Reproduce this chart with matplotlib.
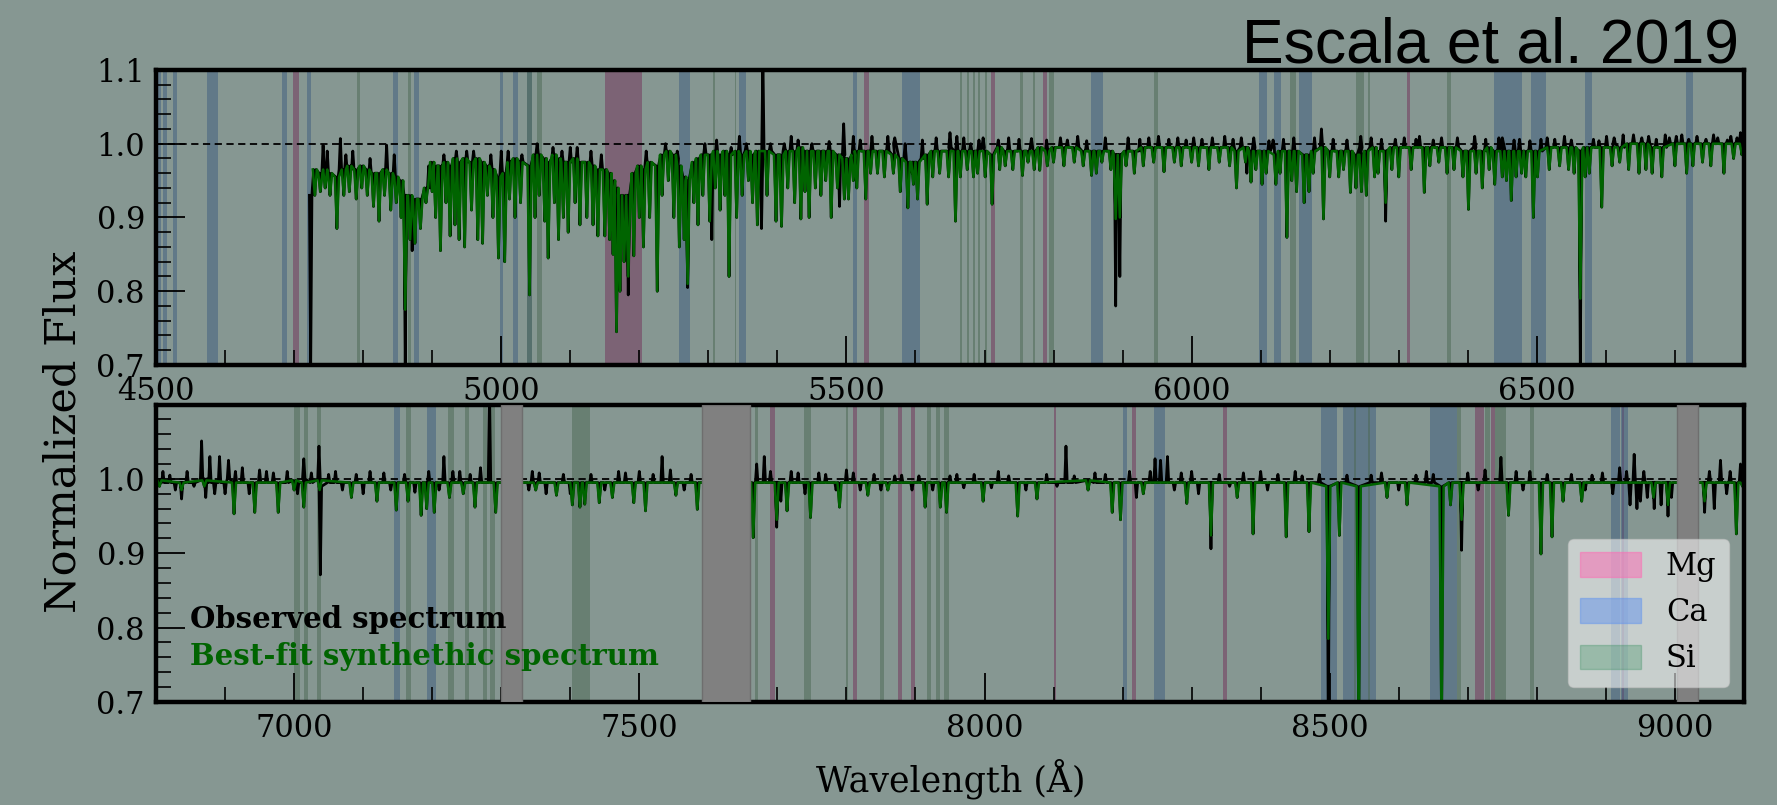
import matplotlib
matplotlib.use("Agg")
import matplotlib.pyplot as plt
from matplotlib.patches import Patch
from matplotlib.ticker import MultipleLocator

# ---- data -------------------------------------------------------------
# absorption features of the best-fit model: (centre A, local top, minimum)
MODEL_LINES = [
    (4730, 0.965, 0.93), (4738, 0.96, 0.935), (4745, 0.965, 0.94), (4752, 0.96, 0.93),
    (4762, 0.955, 0.885), (4772, 0.965, 0.93), (4780, 0.97, 0.935), (4790, 0.965, 0.925),
    (4798, 0.97, 0.94), (4806, 0.965, 0.93), (4815, 0.96, 0.915), (4823, 0.96, 0.895),
    (4831, 0.965, 0.93), (4840, 0.96, 0.91), (4848, 0.955, 0.92), (4855, 0.95, 0.90),
    (4861, 0.93, 0.775), (4868, 0.93, 0.87), (4875, 0.925, 0.865), (4883, 0.925, 0.885),
    (4891, 0.94, 0.92), (4900, 0.975, 0.935), (4905, 0.97, 0.90), (4912, 0.97, 0.855),
    (4920, 0.975, 0.92), (4926, 0.97, 0.875), (4933, 0.98, 0.89), (4939, 0.975, 0.87),
    (4947, 0.98, 0.86), (4957, 0.975, 0.91), (4966, 0.98, 0.87), (4973, 0.975, 0.865),
    (4980, 0.97, 0.93), (4988, 0.965, 0.90), (4996, 0.955, 0.845), (5005, 0.96, 0.84),
    (5012, 0.975, 0.925), (5020, 0.98, 0.90), (5028, 0.975, 0.92), (5041, 0.97, 0.795),
    (5049, 0.985, 0.90), (5055, 0.985, 0.93), (5063, 0.98, 0.895), (5068, 0.975, 0.845),
    (5077, 0.985, 0.92), (5083, 0.98, 0.87), (5090, 0.975, 0.90), (5097, 0.975, 0.88),
    (5107, 0.98, 0.92), (5114, 0.975, 0.89), (5124, 0.975, 0.90), (5133, 0.97, 0.89),
    (5140, 0.965, 0.875), (5150, 0.965, 0.875), (5157, 0.96, 0.87), (5162, 0.95, 0.85),
    (5167, 0.94, 0.745), (5172, 0.93, 0.80), (5178, 0.93, 0.84), (5184, 0.93, 0.82),
    (5192, 0.96, 0.848), (5200, 0.97, 0.90), (5206, 0.965, 0.86), (5215, 0.975, 0.90),
    (5226, 0.97, 0.80), (5233, 0.985, 0.93), (5242, 0.99, 0.95), (5250, 0.985, 0.90),
    (5258, 0.97, 0.86), (5265, 0.955, 0.87), (5270, 0.95, 0.81), (5279, 0.975, 0.92),
    (5285, 0.98, 0.89), (5292, 0.985, 0.93), (5302, 0.985, 0.895), (5310, 0.99, 0.94),
    (5317, 0.985, 0.91), (5324, 0.99, 0.93), (5330, 0.985, 0.82), (5341, 0.99, 0.90),
    (5349, 0.985, 0.93), (5358, 0.99, 0.95), (5364, 0.985, 0.92), (5371, 0.99, 0.89),
    (5385, 0.99, 0.93), (5398, 0.985, 0.895), (5406, 0.985, 0.888), (5415, 0.99, 0.94),
    (5425, 0.99, 0.92), (5434, 0.995, 0.898), (5440, 0.99, 0.935), (5446, 0.99, 0.90),
    (5455, 0.99, 0.94), (5463, 0.99, 0.93), (5470, 0.99, 0.95), (5478, 0.99, 0.90),
    (5487, 0.985, 0.94), (5497, 0.98, 0.925), (5503, 0.98, 0.925), (5510, 0.985, 0.95),
    (5515, 0.99, 0.94), (5528, 0.99, 0.925), (5535, 0.99, 0.96), (5545, 0.99, 0.96),
    (5555, 0.99, 0.955), (5568, 0.985, 0.96), (5578, 0.98, 0.935), (5589, 0.975, 0.913),
    (5597, 0.975, 0.945), (5603, 0.975, 0.925), (5617, 0.985, 0.918), (5625, 0.99, 0.955),
    (5635, 0.99, 0.96), (5648, 0.99, 0.955), (5658, 0.99, 0.895), (5665, 0.99, 0.955),
    (5675, 0.99, 0.965), (5684, 0.99, 0.955), (5690, 0.99, 0.96), (5701, 0.99, 0.955),
    (5711, 0.985, 0.918), (5722, 0.995, 0.965), (5730, 0.99, 0.97), (5741, 0.99, 0.965),
    (5755, 0.99, 0.957), (5763, 0.99, 0.975), (5772, 0.99, 0.965), (5780, 0.995, 0.964),
    (5791, 0.99, 0.97), (5800, 0.995, 0.975), (5815, 0.995, 0.97), (5830, 0.995, 0.975),
    (5843, 0.99, 0.97), (5855, 0.99, 0.957), (5862, 0.99, 0.96), (5870, 0.99, 0.975),
    (5883, 0.99, 0.965), (5890, 0.985, 0.898), (5896, 0.985, 0.90), (5905, 0.99, 0.97),
    (5917, 0.99, 0.96), (5930, 0.995, 0.97), (5945, 0.995, 0.975), (5960, 0.995, 0.962),
    (5975, 0.995, 0.975), (5985, 0.995, 0.97), (6000, 0.995, 0.975), (6010, 0.995, 0.97),
    (6025, 0.995, 0.965), (6040, 0.995, 0.975), (6055, 0.995, 0.97), (6065, 0.99, 0.94),
    (6078, 0.995, 0.975), (6086, 0.99, 0.948), (6093, 0.99, 0.965), (6102, 0.99, 0.945),
    (6108, 0.99, 0.96), (6122, 0.985, 0.945), (6128, 0.99, 0.96), (6138, 0.99, 0.873),
    (6145, 0.99, 0.95), (6152, 0.99, 0.935), (6163, 0.985, 0.92), (6170, 0.985, 0.935),
    (6176, 0.99, 0.96), (6191, 0.995, 0.898), (6200, 0.99, 0.955), (6213, 0.99, 0.955),
    (6220, 0.99, 0.965), (6230, 0.99, 0.934), (6238, 0.985, 0.94), (6246, 0.985, 0.935),
    (6253, 0.99, 0.93), (6265, 0.995, 0.955), (6270, 0.99, 0.96), (6281, 0.99, 0.92),
    (6290, 0.995, 0.965), (6300, 0.995, 0.955), (6318, 0.995, 0.965), (6337, 0.995, 0.934),
    (6345, 0.995, 0.97), (6358, 0.995, 0.975), (6370, 0.995, 0.96), (6380, 0.995, 0.965),
    (6393, 0.99, 0.955), (6401, 0.99, 0.911), (6412, 0.99, 0.96), (6421, 0.99, 0.94),
    (6431, 0.995, 0.965), (6439, 0.99, 0.945), (6450, 0.99, 0.955), (6456, 0.99, 0.95),
    (6463, 0.99, 0.923), (6470, 0.99, 0.955), (6478, 0.99, 0.96), (6484, 0.99, 0.955),
    (6495, 0.99, 0.90), (6501, 0.99, 0.955), (6518, 0.995, 0.965), (6533, 0.995, 0.97),
    (6546, 0.995, 0.965), (6554, 0.995, 0.96), (6563, 0.99, 0.79), (6570, 0.995, 0.955),
    (6576, 0.995, 0.96), (6594, 0.995, 0.914), (6609, 0.995, 0.97), (6620, 0.995, 0.975),
    (6633, 1.0, 0.965), (6648, 1.0, 0.96), (6658, 1.0, 0.965), (6667, 0.995, 0.96),
    (6681, 0.995, 0.955), (6700, 1.0, 0.97), (6717, 1.0, 0.96), (6726, 1.0, 0.97),
    (6740, 1.0, 0.975), (6752, 1.0, 0.97), (6771, 1.0, 0.96), (6785, 1.0, 0.98),
    (6797, 1.0, 0.985),
    # red arm
    (6805, 0.998, 0.99), (6837, 0.995, 0.985), (6870, 0.998, 0.99), (6913, 0.995, 0.953),
    (6943, 0.995, 0.955), (6977, 0.995, 0.955), (7000, 0.998, 0.985), (7014, 0.995, 0.962),
    (7037, 0.998, 0.985), (7083, 0.995, 0.975), (7120, 0.995, 0.97), (7148, 0.995, 0.958),
    (7165, 0.995, 0.97), (7184, 0.995, 0.951), (7192, 0.995, 0.96), (7203, 0.995, 0.955),
    (7225, 0.995, 0.975), (7245, 0.995, 0.98), (7262, 0.995, 0.962), (7292, 0.995, 0.955),
    (7350, 0.995, 0.985), (7380, 0.995, 0.978), (7403, 0.995, 0.965), (7414, 0.995, 0.962),
    (7421, 0.995, 0.966), (7442, 0.995, 0.968), (7461, 0.995, 0.975), (7492, 0.995, 0.968),
    (7509, 0.995, 0.957), (7553, 0.995, 0.978), (7584, 0.995, 0.959), (7665, 0.995, 0.921),
    (7699, 0.995, 0.945), (7714, 0.995, 0.957), (7748, 0.995, 0.948), (7790, 0.995, 0.962),
    (7831, 0.995, 0.978), (7860, 0.995, 0.985), (7914, 0.995, 0.962), (7936, 0.995, 0.962),
    (7945, 0.995, 0.955), (7998, 0.995, 0.97), (8048, 0.995, 0.95), (8076, 0.995, 0.973),
    (8150, 0.998, 0.985), (8185, 0.995, 0.955), (8197, 0.995, 0.945), (8230, 0.995, 0.98),
    (8293, 0.995, 0.967), (8328, 0.995, 0.924), (8366, 0.995, 0.975), (8389, 0.995, 0.926),
    (8437, 0.995, 0.922), (8470, 0.995, 0.929), (8498, 0.99, 0.785), (8514, 0.995, 0.924),
    (8542, 0.99, 0.65), (8583, 0.995, 0.975), (8612, 0.995, 0.965), (8662, 0.99, 0.66),
    (8675, 0.995, 0.965), (8691, 0.995, 0.945), (8759, 0.995, 0.951), (8806, 0.995, 0.899),
    (8822, 0.995, 0.922), (8838, 0.995, 0.97), (8865, 0.995, 0.97), (8969, 0.995, 0.975),
    (8990, 0.995, 0.965), (9043, 0.995, 0.97), (9089, 0.995, 0.926), (9098, 0.995, 0.99),
]

# places where the observed spectrum departs from the model: (centre, top, extreme)
OBS_EXTRA = [
    (4724, 0.93, 0.695), (4742, 0.96, 0.998), (4748, 0.96, 0.99), (4767, 0.965, 1.007),
    (4775, 0.965, 0.985), (4785, 0.965, 0.99), (4810, 0.96, 0.98), (4834, 0.96, 0.998),
    (4845, 0.955, 0.985), (4861, 0.93, 0.695), (4871, 0.92, 0.855), (4895, 0.94, 0.97),
    (4917, 0.97, 0.985), (4935, 0.975, 0.99), (4950, 0.975, 0.99), (4960, 0.975, 0.99),
    (4985, 0.965, 0.985), (5000, 0.96, 0.99), (5010, 0.97, 0.99), (5030, 0.975, 0.985),
    (5052, 0.985, 1.0), (5075, 0.98, 0.995), (5088, 0.975, 0.99), (5100, 0.975, 0.995),
    (5110, 0.975, 0.995), (5130, 0.97, 0.99), (5145, 0.965, 0.985), (5184, 0.93, 0.795),
    (5210, 0.97, 0.99), (5238, 0.985, 1.0), (5255, 0.98, 0.99), (5270, 0.95, 0.805),
    (5295, 0.985, 1.0), (5305, 0.985, 0.87), (5312, 0.985, 1.005), (5333, 0.985, 0.995),
    (5345, 0.985, 1.01), (5355, 0.99, 1.0), (5377, 0.98, 0.885), (5379, 0.98, 1.12),
    (5390, 0.99, 1.0), (5410, 0.99, 1.0), (5420, 0.99, 1.01), (5430, 0.99, 1.005),
    (5450, 0.99, 1.0), (5475, 0.99, 1.003), (5490, 0.985, 0.915), (5496, 0.985, 1.027),
    (5510, 0.985, 1.01), (5520, 0.99, 1.005), (5537, 0.99, 1.01), (5560, 0.99, 1.01),
    (5570, 1.0, 1.008), (5585, 0.98, 1.0), (5595, 0.975, 0.96), (5610, 0.98, 1.005),
    (5630, 0.99, 1.008), (5650, 0.995, 1.015), (5660, 0.99, 1.01), (5670, 0.99, 1.008),
    (5680, 0.99, 1.0), (5692, 0.99, 1.005), (5698, 0.995, 1.008), (5720, 0.995, 1.005),
    (5735, 0.99, 1.008), (5750, 0.99, 1.006), (5768, 0.995, 1.007), (5790, 0.99, 1.005),
    (5810, 0.995, 1.008), (5820, 0.995, 1.005), (5835, 0.995, 1.01), (5848, 0.99, 1.004),
    (5875, 0.99, 1.008), (5890, 0.985, 0.78), (5896, 0.985, 0.82), (5908, 0.99, 1.008),
    (5925, 0.99, 1.006), (5938, 0.995, 1.008), (5952, 0.995, 1.01), (5967, 0.995, 1.006),
    (5980, 0.995, 1.008), (5992, 0.995, 1.005), (6003, 0.995, 1.008), (6015, 0.995, 1.006),
    (6030, 0.995, 1.008), (6048, 0.995, 1.01), (6060, 0.995, 1.006), (6072, 0.995, 1.008),
    (6080, 0.995, 0.96), (6090, 0.995, 1.008), (6112, 0.99, 1.004), (6118, 0.995, 1.005),
    (6133, 0.99, 1.006), (6148, 0.99, 1.008), (6178, 0.99, 1.008), (6188, 0.995, 1.02),
    (6205, 0.99, 1.006), (6225, 0.99, 1.005), (6245, 0.995, 1.01), (6260, 0.995, 1.008),
    (6275, 0.99, 1.006), (6281, 0.99, 0.895), (6295, 0.995, 1.006), (6308, 0.995, 1.008),
    (6325, 0.995, 1.006), (6330, 0.995, 1.01), (6350, 0.995, 1.005), (6362, 0.995, 1.008),
    (6385, 0.995, 1.008), (6410, 0.995, 1.01), (6426, 0.99, 1.006), (6445, 0.99, 1.008),
    (6450, 1.0, 1.008), (6467, 0.99, 1.005), (6475, 0.99, 1.006), (6490, 0.99, 1.004),
    (6506, 0.99, 1.006), (6515, 0.995, 1.008), (6526, 0.995, 1.006), (6540, 0.995, 1.01),
    (6550, 0.995, 1.005), (6563, 0.99, 0.695), (6582, 0.995, 1.006), (6590, 0.995, 1.004),
    (6601, 0.995, 1.01), (6612, 1.0, 1.008), (6625, 0.995, 1.012), (6640, 1.0, 1.012),
    (6652, 1.0, 1.008), (6662, 1.0, 1.01), (6673, 0.995, 1.006), (6686, 0.995, 1.012),
    (6692, 1.0, 1.008), (6702, 1.0, 1.01), (6710, 1.0, 1.012), (6720, 1.0, 1.006),
    (6732, 1.0, 1.01), (6745, 1.0, 1.006), (6756, 1.0, 1.012), (6762, 1.0, 1.008),
    (6776, 1.0, 1.005), (6781, 1.0, 1.01), (6790, 1.0, 1.008), (6795, 1.0, 1.015),
    (6810, 0.995, 1.01), (6820, 0.995, 1.005), (6828, 0.995, 0.985), (6837, 0.995, 0.973),
    (6845, 0.995, 1.01), (6855, 0.995, 0.99), (6866, 0.998, 1.051), (6872, 1.0, 0.975),
    (6878, 0.995, 1.03), (6885, 0.995, 0.98), (6892, 0.995, 1.03), (6900, 0.995, 0.98),
    (6905, 1.0, 1.025), (6915, 0.995, 1.01), (6925, 0.995, 1.015), (6935, 0.995, 0.98),
    (6950, 0.995, 1.012), (6960, 0.995, 1.01), (6970, 0.995, 1.008), (6990, 0.995, 1.01),
    (7005, 0.995, 0.98), (7014, 1.0, 1.027), (7025, 0.995, 1.008), (7036, 1.0, 1.044),
    (7038, 0.99, 0.871), (7050, 0.995, 1.006), (7060, 0.995, 1.01), (7070, 0.995, 0.985),
    (7090, 0.995, 1.006), (7100, 0.995, 0.98), (7110, 0.995, 1.01), (7130, 0.995, 1.008),
    (7140, 0.995, 0.985), (7160, 0.995, 1.006), (7175, 0.995, 0.982), (7195, 0.995, 1.01),
    (7210, 0.995, 0.985), (7217, 0.995, 1.03), (7230, 0.995, 1.01), (7240, 0.995, 1.01),
    (7255, 0.995, 1.006), (7270, 0.995, 1.015), (7283, 0.995, 1.12), (7340, 0.995, 0.985),
    (7345, 0.995, 1.01), (7355, 0.995, 1.008), (7365, 0.995, 0.98), (7390, 0.995, 1.006),
    (7400, 0.995, 0.98), (7430, 0.995, 1.006), (7450, 0.995, 0.985), (7470, 0.995, 1.01),
    (7480, 0.995, 1.008), (7500, 0.995, 1.01), (7520, 0.995, 1.006), (7533, 0.995, 1.03),
    (7545, 0.995, 1.012), (7565, 0.995, 0.985), (7575, 0.995, 1.006), (7670, 0.995, 1.02),
    (7681, 0.995, 1.03), (7690, 0.995, 1.01), (7699, 0.995, 0.935), (7705, 0.995, 0.97),
    (7720, 0.995, 1.01), (7730, 0.995, 1.008), (7740, 0.995, 0.98), (7760, 0.995, 1.008),
    (7770, 0.995, 1.006), (7785, 0.995, 0.985), (7800, 0.995, 1.012), (7810, 0.995, 1.008),
    (7820, 0.995, 0.985), (7840, 0.995, 1.006), (7850, 0.995, 0.985), (7870, 0.995, 1.004),
    (7880, 0.995, 1.005), (7895, 0.995, 0.985), (7905, 0.995, 1.004), (7925, 0.995, 0.985),
    (7950, 0.995, 1.004), (7960, 0.995, 1.006), (7970, 0.995, 0.988), (7985, 0.995, 1.006),
    (8010, 0.995, 0.988), (8020, 0.995, 1.01), (8035, 0.995, 1.004), (8060, 0.995, 0.985),
    (8090, 0.995, 1.006), (8105, 0.995, 0.99), (8118, 0.995, 1.044), (8130, 0.995, 1.004),
    (8160, 0.995, 1.008), (8175, 0.995, 1.006), (8210, 0.995, 1.01), (8220, 0.995, 0.975),
    (8240, 0.995, 1.01), (8247, 0.995, 1.027), (8255, 0.995, 1.025), (8265, 0.995, 1.03),
    (8275, 0.995, 0.985), (8285, 0.995, 1.008), (8300, 0.995, 1.01), (8310, 0.995, 0.98),
    (8328, 0.995, 0.906), (8340, 0.995, 1.006), (8355, 0.995, 0.99), (8375, 0.995, 1.008),
    (8400, 0.995, 1.01), (8410, 0.995, 0.985), (8425, 0.995, 1.006), (8450, 0.995, 1.01),
    (8460, 0.995, 1.004), (8485, 0.995, 1.006), (8498, 0.99, 0.65), (8525, 0.995, 1.005),
    (8560, 0.995, 1.005), (8575, 0.995, 1.008), (8600, 0.995, 0.985), (8625, 0.995, 1.005),
    (8640, 0.995, 1.01), (8650, 0.995, 1.006), (8691, 0.995, 0.904), (8700, 0.995, 1.008),
    (8715, 0.995, 0.985), (8725, 0.995, 1.012), (8748, 0.995, 1.029), (8770, 0.995, 1.01),
    (8780, 0.995, 0.985), (8790, 0.995, 1.01), (8815, 0.995, 1.006), (8850, 0.995, 1.006),
    (8870, 0.995, 0.985), (8880, 0.995, 1.005), (8895, 0.995, 1.008), (8910, 0.995, 0.98),
    (8920, 0.995, 1.015), (8930, 0.995, 1.01), (8935, 0.995, 0.965), (8941, 0.995, 1.033),
    (8945, 0.995, 0.96), (8950, 0.995, 0.97), (8955, 0.995, 1.01), (8960, 0.995, 0.975),
    (8970, 0.995, 0.96), (8980, 0.995, 0.965), (8990, 0.995, 0.95), (8995, 0.995, 0.975),
    (9043, 0.995, 0.955), (9050, 0.995, 1.01), (9057, 0.995, 0.96), (9066, 0.995, 1.025),
    (9075, 0.995, 0.98), (9080, 0.995, 1.01), (9095, 0.995, 1.02),
]

# wavelength windows used in the abundance fits (start, end in A)
MG_BANDS = [(4699, 4707), (5151, 5204), (5526, 5532), (5709, 5715), (5785, 5790),
            (6312, 6316), (7690, 7697), (7809, 7815), (7874, 7881), (7894, 7900),
            (8100, 8104), (8213, 8219), (8345, 8351), (8711, 8723), (8733, 8739),
            (8923, 8926)]
CA_BANDS = [(4501, 4507), (4510, 4516), (4524, 4530), (4574, 4590), (4683, 4690),
            (4719, 4725), (4843, 4851), (4874, 4881), (4998, 5003), (5017, 5025),
            (5037, 5045), (5258, 5274), (5345, 5355), (5510, 5516), (5580, 5606),
            (5854, 5872), (6097, 6109), (6119, 6129), (6155, 6175), (6438, 6448),
            (6448, 6461), (6461, 6478), (6491, 6507), (6508, 6514), (6570, 6580),
            (6716, 6726), (7144, 7154), (7192, 7206), (8200, 8206), (8246, 8261),
            (8488, 8510), (8519, 8567), (8645, 8684), (8908, 8920), (8922, 8932)]
SI_BANDS = [(4791, 4796), (4865, 4870), (5037, 5045), (5052, 5059), (5307, 5309),
            (5338, 5340), (5664, 5667), (5674, 5677), (5683, 5686), (5690, 5693),
            (5700, 5703), (5752, 5756), (5770, 5773), (5793, 5800), (5946, 5952),
            (6143, 6151), (6238, 6249), (6255, 6258), (6370, 6375), (7000, 7009),
            (7015, 7020), (7033, 7039), (7162, 7170), (7223, 7231), (7248, 7254),
            (7274, 7279), (7284, 7291), (7403, 7428), (7667, 7672), (7739, 7748),
            (7799, 7803), (7849, 7854), (7916, 7922), (7930, 7936), (7942, 7948),
            (8535, 8538), (8555, 8558), (8684, 8690), (8725, 8732), (8740, 8756),
            (8790, 8796)]
# masked (telluric / chip gap) regions
MASKED = [(7300, 7330), (7591, 7661), (9003, 9034)]

PANEL_RANGES = [(4500, 6800), (6800, 9100)]

BG = "#869792"


def expand(lines, hw):
    wl, fl = [], []
    for c, top, low in lines:
        wl += [c - hw, c, c + hw]
        fl += [top, low, top]
    return wl, fl


def main():
    plt.rcParams["font.family"] = "DejaVu Serif"
    fig = plt.figure(figsize=(17.77, 8.05), dpi=100, facecolor=BG)
    ax_top = fig.add_axes([0.0878, 0.5466, 0.8936, 0.3665])
    ax_bot = fig.add_axes([0.0878, 0.128, 0.8936, 0.3695])

    model_wl, model_fl = expand(MODEL_LINES, 3.0)
    obs_lines = sorted(MODEL_LINES + OBS_EXTRA, key=lambda t: t[0])
    obs_wl, obs_fl = expand(obs_lines, 1.8)

    band_sets = [(MG_BANDS, "#743159"), (CA_BANDS, "#3e5d7f"), (SI_BANDS, "#4c6953")]

    for ax, (lo, hi) in zip((ax_top, ax_bot), PANEL_RANGES):
        ax.set_facecolor(BG)
        for bands, col in band_sets:
            for a, b in bands:
                if b > lo and a < hi:
                    ax.axvspan(a, b, color=col, alpha=0.5, lw=0, zorder=1)
        ax.axhline(1.0, color="black", lw=1.3, ls=(0, (4, 2.5)), zorder=1.5)
        ax.plot(obs_wl, obs_fl, color="black", lw=2.0, zorder=2)
        ax.plot(model_wl, model_fl, color="#006400", lw=1.8, zorder=2.1)
        for a, b in MASKED:
            if b > lo and a < hi:
                ax.axvspan(a, b, facecolor="#808080", edgecolor="#6e6e6e", lw=1, zorder=3)
        ax.set_xlim(lo, hi)
        ax.set_ylim(0.7, 1.1)
        ax.xaxis.set_major_locator(MultipleLocator(500))
        ax.xaxis.set_minor_locator(MultipleLocator(100))
        ax.yaxis.set_minor_locator(MultipleLocator(0.02))
        ax.tick_params(which="both", direction="in", top=False, right=False,
                       labelsize=22, pad=8, color="black")
        ax.tick_params(which="major", length=21, width=1.3)
        ax.tick_params(which="minor", length=11, width=1.2)
        for sp in ax.spines.values():
            sp.set_linewidth(3.2)

    ax_top.set_yticks([0.7, 0.8, 0.9, 1.0, 1.1])
    ax_bot.set_yticks([0.7, 0.8, 0.9, 1.0])

    ax_bot.text(6849, 0.80, "Observed spectrum", fontsize=21, fontweight="bold",
                color="black", zorder=4)
    ax_bot.text(6849, 0.75, "Best-fit synthethic spectrum", fontsize=21,
                fontweight="bold", color="#006400", zorder=4)

    handles = [Patch(facecolor="#ff69b4", edgecolor="#ff69b4", alpha=0.5, label="Mg"),
               Patch(facecolor="#6495ed", edgecolor="#6495ed", alpha=0.5, label="Ca"),
               Patch(facecolor="#2e8b57", edgecolor="#2e8b57", alpha=0.3, label="Si")]
    leg = ax_bot.legend(handles=handles, loc="lower right", fontsize=22,
                        handlelength=2.0, handleheight=0.85, handletextpad=0.8,
                        labelspacing=0.5, borderaxespad=0.5, framealpha=0.55,
                        facecolor="white", edgecolor="#c8c8c8", fancybox=True)
    leg.set_zorder(5)

    fig.text(0.036, 0.463, "Normalized Flux", rotation=90, ha="center", va="center",
             fontsize=31)
    fig.text(0.535, 0.032, "Wavelength (\u00c5)", ha="center", va="center", fontsize=25)
    fig.text(0.9786, 0.922, "Escala et al. 2019", ha="right", va="baseline",
             fontsize=45, family="Liberation Sans")

    fig.savefig("out.png", dpi=100, facecolor=BG)


if __name__ == "__main__":
    main()
